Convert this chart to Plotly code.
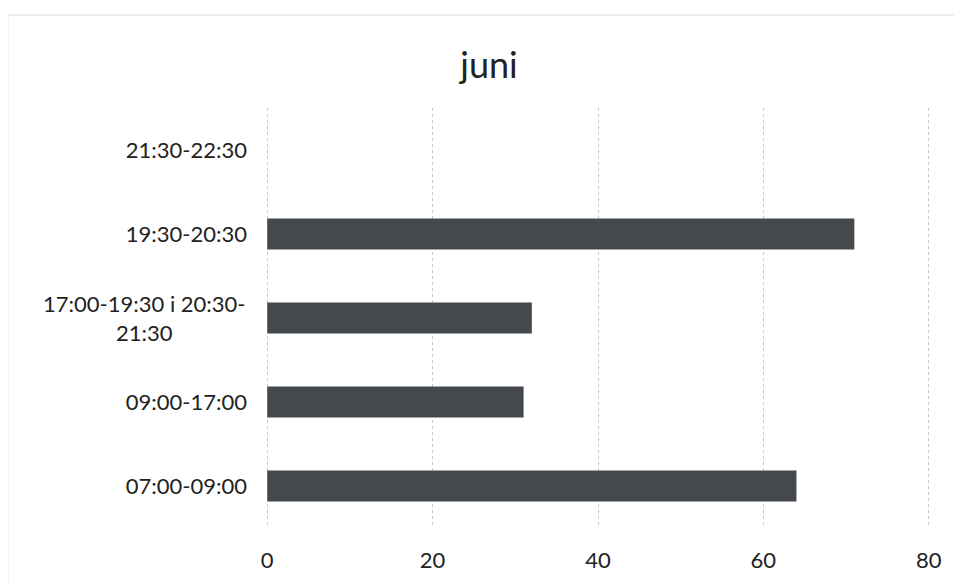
import plotly.graph_objects as go

categories = ["07:00-09:00", "09:00-17:00", "17:00-19:30 i 20:30-<br>21:30", "19:30-20:30", "21:30-22:30"]
values = [64, 31, 32, 71, 0]
x_ticks = [0, 20, 40, 60, 80]

FONT = "Lato, Open Sans, sans-serif"
multi = categories[2]
tick_text = ["" if c == multi else c for c in categories]

fig = go.Figure()
fig.add_trace(go.Bar(
    y=categories, x=values, orientation="h",
    marker=dict(color="#45484d", line=dict(width=0)),
    width=0.37,
))

fig.update_layout(
    width=962, height=584,
    paper_bgcolor="white", plot_bgcolor="white",
    margin=dict(l=258, r=40, t=100, b=64),
    title=dict(text="juni", x=0.5, xanchor="center", y=0.902, yanchor="middle",
               font=dict(family=FONT, size=36, color="#222")),
    font=dict(family=FONT, size=22, color="#222"),
    showlegend=False,
    shapes=[dict(type="rect", xref="paper", yref="paper", x0=-0.3886, x1=1.1, y0=-0.3, y1=1.221,
                 line=dict(color="#e2e2e2", width=1))],
    annotations=[dict(text=multi, xref="paper", yref="y", x=0, y=multi, xanchor="right",
                      xshift=-18, align="center", showarrow=False,
                      font=dict(family=FONT, size=22, color="#222"))],
)
fig.update_xaxes(range=[-0.15, 80.15], tickvals=x_ticks, showgrid=True, gridcolor="#c4c6d0",
                 griddash="dot", gridwidth=1, zeroline=False, showline=False,
                 ticks="", ticklabelstandoff=17, tickfont=dict(size=22))
fig.update_yaxes(categoryorder="array", categoryarray=categories, range=[-0.5, 4.5],
                 tickvals=categories, ticktext=tick_text,
                 showgrid=False, zeroline=False, showline=False, ticks="",
                 ticklabelstandoff=18, tickfont=dict(size=22))

fig.write_html("out.html")
